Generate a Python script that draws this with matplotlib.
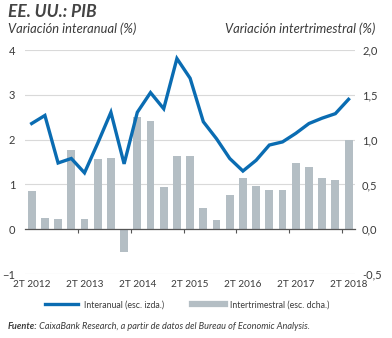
import matplotlib

matplotlib.use("Agg")
import matplotlib.pyplot as plt
from matplotlib.ticker import FuncFormatter

# trimestres 2T 2012 -> 2T 2018
quarters = ["2T 2012", "3T 2012", "4T 2012", "1T 2013", "2T 2013", "3T 2013", "4T 2013",
            "1T 2014", "2T 2014", "3T 2014", "4T 2014", "1T 2015", "2T 2015", "3T 2015",
            "4T 2015", "1T 2016", "2T 2016", "3T 2016", "4T 2016", "1T 2017", "2T 2017",
            "3T 2017", "4T 2017", "1T 2018", "2T 2018"]
interanual = [2.36, 2.54, 1.48, 1.58, 1.26, 1.92, 2.61, 1.46, 2.61, 3.05, 2.69, 3.81, 3.37,
              2.40, 2.02, 1.58, 1.30, 1.54, 1.88, 1.95, 2.14, 2.36, 2.48, 2.58, 2.90]
intertrimestral = [0.43, 0.13, 0.11, 0.89, 0.12, 0.78, 0.80, -0.25, 1.25, 1.21, 0.47, 0.82,
                   0.82, 0.24, 0.10, 0.38, 0.57, 0.48, 0.44, 0.44, 0.74, 0.70, 0.57, 0.55, 1.00]
left_ticks = [-1, 0, 1, 2, 3, 4]
right_ticks = [-0.5, 0.0, 0.5, 1.0, 1.5, 2.0]

BLUE = "#0a6cb2"
GREY = "#b4bec4"
TXT = "#3a3a3a"

plt.rcParams["font.family"] = ["Lato", "DejaVu Sans"]

x = list(range(len(quarters)))
fig = plt.figure(figsize=(3.92, 3.38), dpi=100)
ax = fig.add_axes([0.064, 0.189, 0.842, 0.663])
ax2 = ax.twinx()

ax2.bar(x, intertrimestral, width=0.6, color=GREY, zorder=2)
ax2.set_ylim(-0.5, 2.0)
ax2.set_yticks(right_ticks)
ax2.yaxis.set_major_formatter(FuncFormatter(lambda v, p: f"{v:.1f}".replace(".", ",")))
ax2.grid(axis="y", color="#d9d9d9", lw=0.8, zorder=0)
ax2.set_axisbelow(True)

ax.plot(x, interanual, color=BLUE, lw=2.4, solid_joinstyle="miter", zorder=3)
ax.set_ylim(-1, 4)
ax.set_yticks(left_ticks)
ax.set_xlim(-0.5, len(quarters) - 0.5)
ax.set_zorder(ax2.get_zorder() + 1)
ax.patch.set_visible(False)

ax.set_xticks(x[::4])
ax.set_xticklabels(quarters[::4])

for a in (ax, ax2):
    for s in a.spines.values():
        s.set_visible(False)
    a.tick_params(length=0, labelsize=8, labelcolor=TXT)
ax.tick_params(axis="y", pad=7)
ax2.tick_params(axis="y", pad=5)
ax.tick_params(axis="x", pad=4, labelsize=7.2)

# eje cero con marcas entre 1T y 2T
zero = ax.secondary_xaxis(0.2)
zero.set_xticks([i - 0.5 for i in x[4::4]])
zero.tick_params(length=3, width=0.8, color="#555555", labelbottom=False)
zero.spines["bottom"].set_color("#555555")
zero.spines["bottom"].set_linewidth(0.9)

fig.text(0.02, 0.965, "EE. UU.: PIB", fontsize=12.5, fontweight="bold", style="italic",
         color="#444444", va="center")
fig.text(0.02, 0.915, "Variación interanual (%)", fontsize=9.3, style="italic",
         color=TXT, va="center")
fig.text(0.957, 0.915, "Variación intertrimestral (%)", fontsize=9.3, style="italic",
         color=TXT, va="center", ha="right")

h1 = plt.Line2D([], [], color=BLUE, lw=2.4)
h2 = plt.Line2D([], [], color=GREY, lw=4.5)
fig.legend([h1, h2], ["Interanual (esc. izda.)", "Intertrimestral (esc. dcha.)"],
           loc="center", bbox_to_anchor=(0.478, 0.098), ncol=2, frameon=False,
           fontsize=6.3, handlelength=3.8, handletextpad=0.6, columnspacing=3.2,
           labelcolor=TXT)

t1 = fig.text(0.02, 0.035, "Fuente:", fontsize=6.6, fontweight="bold", style="italic",
              color=TXT, va="center")
ax.annotate(" CaixaBank Research, a partir de datos del Bureau of Economic Analysis.",
            xy=(1, 0.5), xycoords=t1, va="center", fontsize=6.6, style="italic",
            color=TXT, annotation_clip=False)

fig.savefig("out.png", dpi=100)
plt.close(fig)
